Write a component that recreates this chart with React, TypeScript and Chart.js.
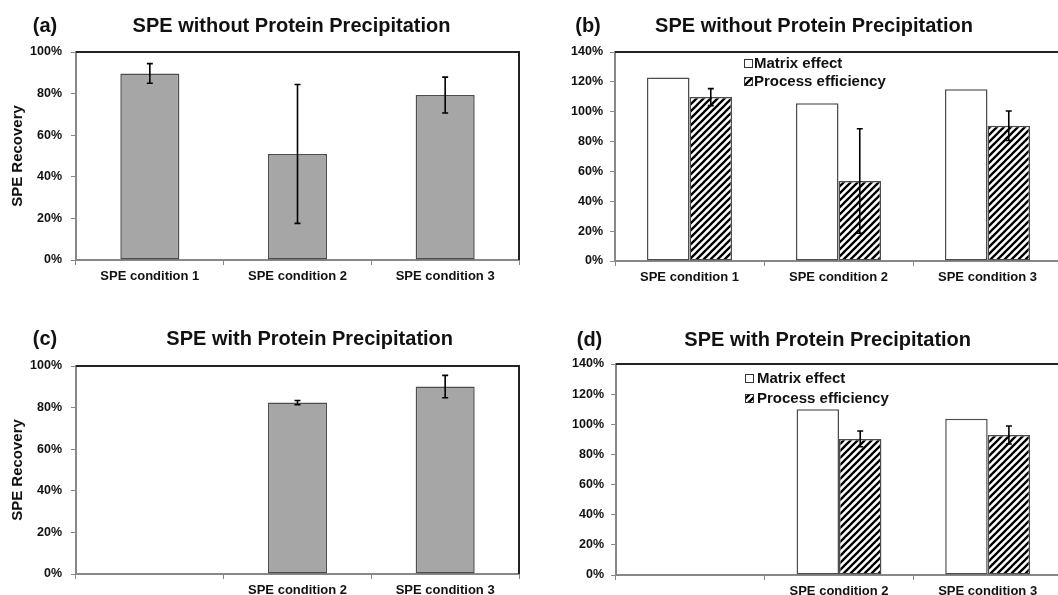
import React, { useEffect, useRef } from 'react';
import { Chart, registerables } from 'chart.js';

Chart.register(...registerables);

const FONT = "'Liberation Sans', Arial, Helvetica, sans-serif";

// ---------- data ----------
const categoriesTop = ['SPE condition 1', 'SPE condition 2', 'SPE condition 3'];
const categoriesBottom = ['', 'SPE condition 2', 'SPE condition 3'];

const recoveryA = [89.7, 51.0, 79.3];
const recoveryAErr = [4.7, 33.4, 8.6];

const matrixB = [123.0, 105.6, 115.0];
const processB = [109.8, 53.6, 90.6];
const processBErr = [5.7, 35.0, 9.9];

const recoveryC = [null, 82.4, 90.1];
const recoveryCErr = [null, 1.0, 5.4];

const matrixD = [null, 110.0, 103.6];
const processD = [null, 90.3, 92.9];
const processDErr = [null, 5.2, 6.0];

const titleWithout = 'SPE without Protein Precipitation';
const titleWith = 'SPE with Protein Precipitation';
const yTitle = 'SPE Recovery';
const legendMatrix = 'Matrix effect';
const legendProcess = 'Process efficiency';

// ---------- helpers ----------
function makeHatch(): CanvasPattern | string {
  const s = 7;
  const c = document.createElement('canvas');
  c.width = s;
  c.height = s;
  const g = c.getContext('2d');
  if (!g) return '#888';
  g.fillStyle = '#fff';
  g.fillRect(0, 0, s, s);
  g.strokeStyle = '#000';
  g.lineWidth = 2.3;
  g.beginPath();
  g.moveTo(-1, s + 1); g.lineTo(s + 1, -1);
  g.moveTo(-2, 2); g.lineTo(2, -2);
  g.moveTo(s - 2, s + 2); g.lineTo(s + 2, s - 2);
  g.stroke();
  const p = g.createPattern(c, 'repeat');
  return p || '#888';
}

type TextItem = { text: string; x: number; y: number; size: number; align?: CanvasTextAlign };

type PanelSpec = {
  left: number; top: number; w: number; h: number;
  area: { l: number; t: number; r: number; b: number };
  yMax: number;
  yPad: number;
  labels: string[];
  texts: TextItem[];
  yTitle?: string;
  legend?: { boxX: number; textX: number; y1: number; y2: number };
  kind: 'single' | 'pair';
  single?: (number | null)[];
  singleErr?: (number | null)[];
  matrix?: (number | null)[];
  process?: (number | null)[];
  processErr?: (number | null)[];
};

const panels: PanelSpec[] = [
  {
    left: 0, top: 0, w: 529, h: 300,
    area: { l: 76, t: 52, r: 519, b: 260 },
    yMax: 100, yPad: 9,
    labels: categoriesTop,
    texts: [
      { text: '(a)', x: 45, y: 26, size: 20 },
      { text: titleWithout, x: 291.5, y: 26, size: 20 },
    ],
    yTitle,
    kind: 'single', single: recoveryA, singleErr: recoveryAErr,
  },
  {
    left: 529, top: 0, w: 545, h: 300,
    area: { l: 86, t: 52, r: 533, b: 261 },
    yMax: 140, yPad: 7,
    labels: categoriesTop,
    texts: [
      { text: '(b)', x: 59, y: 26, size: 20 },
      { text: titleWithout, x: 285, y: 26, size: 20 },
    ],
    legend: { boxX: 215, textX: 225, y1: 63, y2: 81 },
    kind: 'pair', matrix: matrixB, process: processB, processErr: processBErr,
  },
  {
    left: 0, top: 300, w: 529, h: 320,
    area: { l: 76, t: 66, r: 519, b: 274 },
    yMax: 100, yPad: 9,
    labels: categoriesBottom,
    texts: [
      { text: '(c)', x: 45, y: 39.5, size: 20 },
      { text: titleWith, x: 309.7, y: 39.5, size: 20 },
    ],
    yTitle,
    kind: 'single', single: recoveryC, singleErr: recoveryCErr,
  },
  {
    left: 529, top: 300, w: 545, h: 320,
    area: { l: 87, t: 64, r: 533, b: 275 },
    yMax: 140, yPad: 7,
    labels: categoriesBottom,
    texts: [
      { text: '(d)', x: 60.5, y: 40.5, size: 20 },
      { text: titleWith, x: 298.7, y: 40.5, size: 20 },
    ],
    legend: { boxX: 216, textX: 228, y1: 78, y2: 98 },
    kind: 'pair', matrix: matrixD, process: processD, processErr: processDErr,
  },
];

function buildChart(canvas: HTMLCanvasElement, p: PanelSpec): Chart {
  const hatch = makeHatch();
  const datasets: any[] = [];
  if (p.kind === 'single') {
    datasets.push({
      label: yTitle,
      data: p.single,
      errors: p.singleErr,
      backgroundColor: '#a6a6a6',
      borderColor: '#4d4d4d',
      borderWidth: 1.5,
      borderSkipped: false,
      barPercentage: 0.4,
      categoryPercentage: 1,
    });
  } else {
    datasets.push({
      label: legendMatrix,
      data: p.matrix,
      backgroundColor: '#ffffff',
      borderColor: '#4d4d4d',
      borderWidth: 1.5,
      borderSkipped: false,
      barPercentage: 1,
      categoryPercentage: 0.571,
    });
    datasets.push({
      label: legendProcess,
      data: p.process,
      errors: p.processErr,
      backgroundColor: hatch,
      borderColor: '#4d4d4d',
      borderWidth: 1.5,
      borderSkipped: false,
      barPercentage: 1,
      categoryPercentage: 0.571,
    });
  }

  const errorBars = {
    id: 'errorBars',
    afterDatasetsDraw(chart: any) {
      const ctx = chart.ctx;
      const ys = chart.scales.y;
      chart.data.datasets.forEach((ds: any, i: number) => {
        if (!ds.errors) return;
        const meta = chart.getDatasetMeta(i);
        meta.data.forEach((el: any, j: number) => {
          const v = ds.data[j];
          const e = ds.errors[j];
          if (v == null || e == null) return;
          const x = el.x;
          const yt = ys.getPixelForValue(v + e);
          const yb = ys.getPixelForValue(v - e);
          ctx.save();
          ctx.strokeStyle = '#000';
          ctx.lineWidth = 1.6;
          ctx.beginPath();
          ctx.moveTo(x, yt); ctx.lineTo(x, yb);
          ctx.moveTo(x - 3, yt); ctx.lineTo(x + 3, yt);
          ctx.moveTo(x - 3, yb); ctx.lineTo(x + 3, yb);
          ctx.stroke();
          ctx.restore();
        });
      });
    },
  };

  const frame = {
    id: 'frame',
    afterDraw(chart: any) {
      const { ctx, chartArea } = chart;
      ctx.save();
      ctx.strokeStyle = '#222';
      ctx.lineWidth = 2;
      ctx.beginPath();
      ctx.moveTo(chartArea.left, chartArea.top);
      ctx.lineTo(chartArea.right, chartArea.top);
      ctx.lineTo(chartArea.right, chartArea.bottom);
      ctx.stroke();
      ctx.restore();
    },
  };

  const texts = {
    id: 'panelTexts',
    afterDraw(chart: any) {
      const ctx = chart.ctx;
      ctx.save();
      ctx.fillStyle = '#111';
      ctx.textBaseline = 'middle';
      p.texts.forEach((t) => {
        ctx.font = `bold ${t.size}px ${FONT}`;
        ctx.textAlign = t.align || 'center';
        ctx.fillText(t.text, t.x, t.y);
      });
      if (p.legend) {
        const L = p.legend;
        const rows = [L.y1, L.y2];
        chart.data.datasets.forEach((ds: any, i: number) => {
          const y = rows[i];
          ctx.fillStyle = ds.backgroundColor;
          ctx.fillRect(L.boxX, y - 4, 8, 8);
          ctx.strokeStyle = '#333';
          ctx.lineWidth = 1;
          ctx.strokeRect(L.boxX + 0.5, y - 3.5, 8, 8);
          ctx.fillStyle = '#111';
          ctx.font = `bold 15px ${FONT}`;
          ctx.textAlign = 'left';
          ctx.fillText(ds.label, L.textX, y + 0.5);
        });
      }
      ctx.restore();
    },
  };

  return new Chart(canvas, {
    type: 'bar',
    data: { labels: p.labels, datasets },
    plugins: [errorBars, frame, texts],
    options: {
      animation: false,
      responsive: false,
      devicePixelRatio: 1,
      events: [],
      layout: { padding: { left: 0, top: p.area.t, right: p.w - p.area.r, bottom: 0 } },
      plugins: {
        legend: { display: false },
        title: { display: false },
        tooltip: { enabled: false },
      },
      scales: {
        x: {
          type: 'category',
          offset: true,
          grid: { display: true, drawOnChartArea: false, offset: true, tickLength: 5, color: '#888', lineWidth: 1 },
          border: { display: true, color: '#888', width: 2 },
          ticks: {
            font: { family: FONT, size: 13, weight: 'bold' },
            color: '#111',
            padding: 4,
            maxRotation: 0,
            autoSkip: false,
          },
          afterFit: (s: any) => { s.height = p.h - p.area.b; },
        },
        y: {
          min: 0,
          max: p.yMax,
          grid: { display: true, drawOnChartArea: false, tickLength: 5, color: '#888', lineWidth: 1 },
          border: { display: true, color: '#888', width: 2 },
          ticks: {
            stepSize: 20,
            font: { family: FONT, size: 12.5, weight: 'bold' },
            color: '#111',
            padding: p.yPad,
            callback: (v: any) => `${v}%`,
          },
          title: p.yTitle
            ? {
                display: true,
                text: p.yTitle,
                font: { family: FONT, size: 15, weight: 'bold' },
                color: '#111',
                padding: { top: 9, bottom: 0 },
              }
            : { display: false },
          afterFit: (s: any) => { s.width = p.area.l; },
        },
      } as any,
    },
  } as any);
}

function Panel({ spec }: { spec: PanelSpec }) {
  const ref = useRef<HTMLCanvasElement | null>(null);
  useEffect(() => {
    if (!ref.current) return;
    const chart = buildChart(ref.current, spec);
    return () => chart.destroy();
  }, [spec]);
  return (
    <canvas
      ref={ref}
      width={spec.w}
      height={spec.h}
      style={{ position: 'absolute', left: spec.left, top: spec.top, width: spec.w, height: spec.h }}
    />
  );
}

export default function App() {
  return (
    <div
      style={{
        position: 'absolute',
        left: 0,
        top: 0,
        width: 1058,
        height: 595,
        overflow: 'hidden',
        background: '#fff',
      }}
    >
      {panels.map((p, i) => (
        <Panel key={i} spec={p} />
      ))}
    </div>
  );
}
